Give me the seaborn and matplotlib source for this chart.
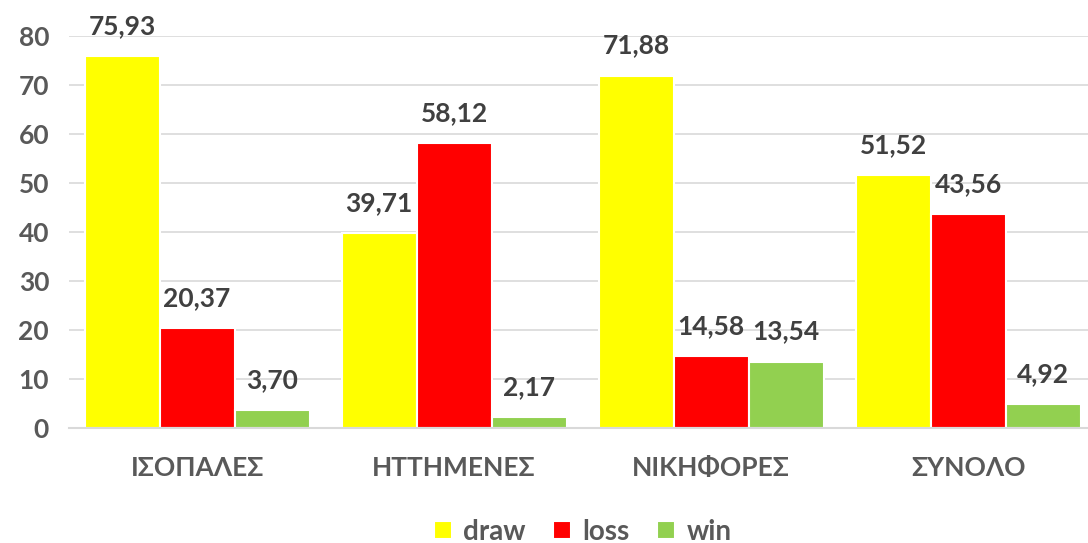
import matplotlib
matplotlib.use("Agg")
import matplotlib.pyplot as plt
import seaborn as sns
import pandas as pd

# data
categories = ["ΙΣΟΠΑΛΕΣ", "ΗΤΤΗΜΕΝΕΣ", "ΝΙΚΗΦΟΡΕΣ", "ΣΥΝΟΛΟ"]
draw = [75.93, 39.71, 71.88, 51.52]
loss = [20.37, 58.12, 14.58, 43.56]
win = [3.70, 2.17, 13.54, 4.92]
series = ["draw", "loss", "win"]
colors = ["#FFFF00", "#FF0000", "#92D050"]
y_ticks = [0, 10, 20, 30, 40, 50, 60, 70, 80]

df = pd.DataFrame({
    "cat": categories * 3,
    "value": draw + loss + win,
    "series": [s for s in series for _ in categories],
})

sns.set_theme(style="white")
plt.rcParams["font.family"] = ["Lato", "Open Sans", "DejaVu Sans"]
plt.rcParams["font.weight"] = "bold"
text_color = "#595959"
fs = 19

fig = plt.figure(figsize=(10.88, 5.43), dpi=100)
ax = fig.add_axes([0.063, 0.212, 0.945, 0.722])

sns.barplot(data=df, x="cat", y="value", hue="series", palette=colors,
            saturation=1, width=0.875, edgecolor="white", linewidth=1.5, ax=ax)

for cont in ax.containers:
    labels = [f"{v:.2f}".replace(".", ",") for v in cont.datavalues]
    ax.bar_label(cont, labels=labels, padding=13, fontsize=fs,
                 fontweight="bold", color="#404040", clip_on=False)

ax.set_ylim(0, 80)
ax.set_yticks(y_ticks)
ax.yaxis.grid(True, color="#D9D9D9", linewidth=1.2)
ax.set_axisbelow(True)
for s in ["top", "right", "left"]:
    ax.spines[s].set_visible(False)
ax.spines["bottom"].set_color("#D9D9D9")
ax.spines["bottom"].set_linewidth(1.5)
ax.set_xlabel("")
ax.set_ylabel("")
ax.tick_params(axis="y", labelsize=fs, colors=text_color, length=0, pad=14)
ax.tick_params(axis="x", labelsize=fs, colors=text_color, length=0, pad=20)
for lab in ax.get_xticklabels() + ax.get_yticklabels():
    lab.set_fontweight("bold")

leg = ax.legend(loc="center", bbox_to_anchor=(0.5, -0.265), ncol=3,
                frameon=False, fontsize=fs + 1, handlelength=0.65, handleheight=0.65,
                columnspacing=1.0, handletextpad=0.4, borderpad=0.2)
for t in leg.get_texts():
    t.set_color(text_color)
    t.set_fontweight("bold")

fig.savefig("out.png", dpi=100)
